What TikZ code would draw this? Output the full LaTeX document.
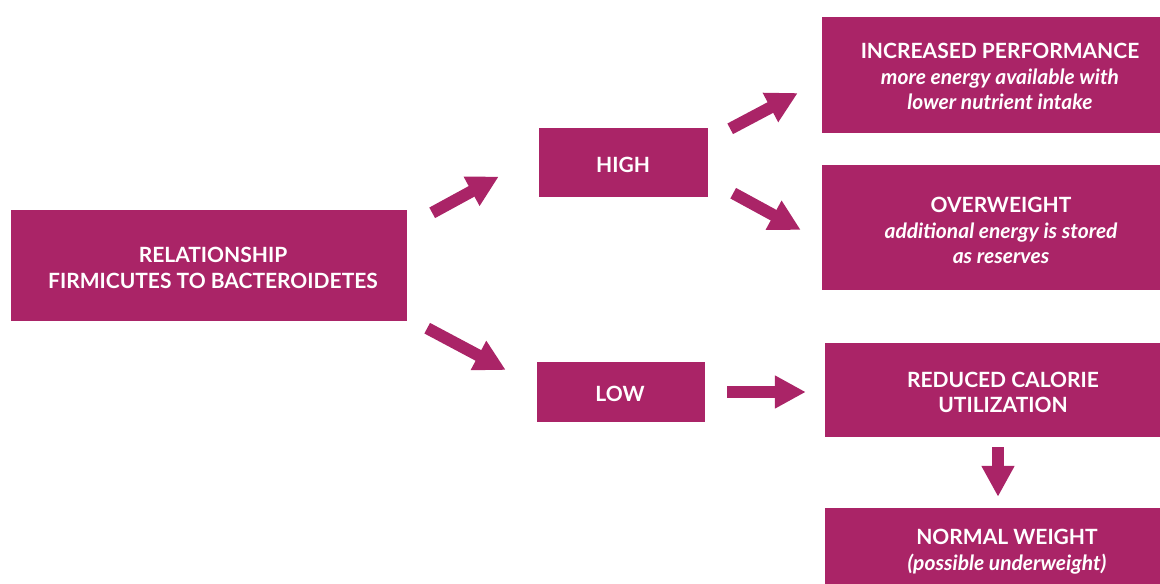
\documentclass[tikz,border=0pt]{standalone}
\usepackage{fontspec}
\setmainfont{Lato}
\usetikzlibrary{arrows.meta,calc}
\definecolor{berry}{RGB}{170,36,103}
\tikzset{
  box/.style={fill=berry, draw=none, inner sep=0pt},
  lbl/.style={text=white, font=\fontsize{21}{25.5}\selectfont\bfseries, align=center, inner sep=0pt},
  blockarrow/.style={draw=berry, line width=12pt, -{Triangle[width=31pt,length=31pt]}},
}
\newcommand{\sub}[1]{{\itshape #1}}
\begin{document}
\begin{tikzpicture}[x=1pt,y=-1pt]
\useasboundingbox (0,0) rectangle (1160,584);
% boxes
\node[box, minimum width=396, minimum height=111] (rel) at (209,265.5) {};
\node[box, minimum width=169, minimum height=69] (high) at (623.5,162.5) {};
\node[box, minimum width=168, minimum height=60] (low) at (621,392) {};
\node[box, minimum width=338, minimum height=116] (inc) at (991,75) {};
\node[box, minimum width=338, minimum height=125] (over) at (991,227.5) {};
\node[box, minimum width=335, minimum height=94] (red) at (992.5,390) {};
\node[box, minimum width=335, minimum height=76] (norm) at (992.5,546) {};
% texts
\node[lbl] (relt) at (213,268) {RELATIONSHIP\\FIRMICUTES TO BACTEROIDETES};
\node[lbl] (hight) at (623,164.5) {HIGH};
\node[lbl] (lowt) at (620,393.5) {LOW};
\node[lbl] (inct) at (1000,76.5) {INCREASED PERFORMANCE\\\sub{more energy available with}\\\sub{lower nutrient intake}};
\node[lbl] (overt) at (1001,230.5) {OVERWEIGHT\\\sub{additional energy is stored}\\\sub{as reserves}};
\node[lbl] (redt) at (1003,392.5) {REDUCED CALORIE\\UTILIZATION};
\node[lbl] (normt) at (1007,551.5) {NORMAL WEIGHT\\\sub{(possible underweight)}};
% arrows
\draw[blockarrow] ($(rel.north east)+(25,3)$) -- ($(high.west)+(-40,14)$);
\draw[blockarrow] ($(rel.south east)+(20,7)$) -- ($(low.west)+(-31,-22)$);
\draw[blockarrow] ($(high.north east)+(22,1)$) -- ($(inc.west)+(-24,18)$);
\draw[blockarrow] ($(high.south east)+(25,-4)$) -- ($(over.west)+(-21,2.5)$);
\draw[blockarrow] ($(low.east)+(22,0)$) -- ($(red.west)+(-19,2)$);
\draw[blockarrow] ($(red.south)+(5.5,10)$) -- ($(norm.north)+(5.5,-11)$);
\end{tikzpicture}
\end{document}
